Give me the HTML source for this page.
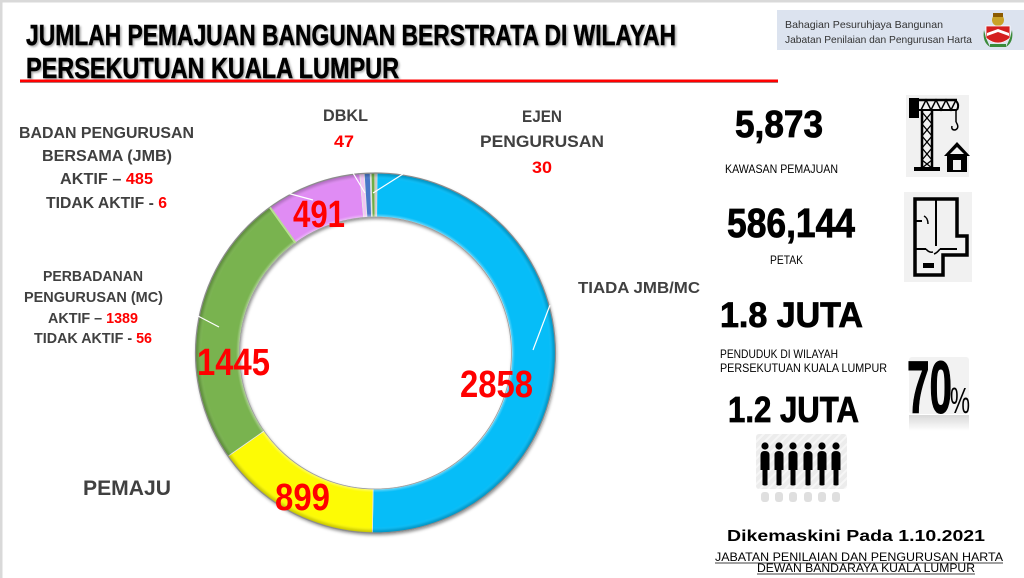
<!DOCTYPE html>
<html>
<head>
<meta charset="utf-8">
<style>
html,body{margin:0;padding:0;background:#fff;}
svg{display:block;}
text{font-family:"Liberation Sans",Arial,sans-serif;}
</style>
</head>
<body>
<svg width="1024" height="578" viewBox="0 0 1024 578" xmlns="http://www.w3.org/2000/svg">
<defs>
  <filter id="tsh" x="-5%" y="-30%" width="110%" height="160%">
    <feDropShadow dx="1.5" dy="1.5" stdDeviation="1" flood-color="#000" flood-opacity="0.35"/>
  </filter>
  <filter id="rsh" x="-10%" y="-10%" width="120%" height="120%">
    <feDropShadow dx="1" dy="2" stdDeviation="1.5" flood-color="#000" flood-opacity="0.45"/>
  </filter>
  <radialGradient id="bev" cx="375.5" cy="353" r="180" gradientUnits="userSpaceOnUse">
    <stop offset="0.755" stop-color="#fff" stop-opacity="0.45"/>
    <stop offset="0.775" stop-color="#fff" stop-opacity="0"/>
    <stop offset="0.965" stop-color="#fff" stop-opacity="0"/>
    <stop offset="0.985" stop-color="#000" stop-opacity="0.12"/>
    <stop offset="1" stop-color="#000" stop-opacity="0.25"/>
  </radialGradient>
  <linearGradient id="refl" x1="0" y1="0" x2="0" y2="1">
    <stop offset="0" stop-color="#000" stop-opacity="0.25"/>
    <stop offset="1" stop-color="#000" stop-opacity="0"/>
  </linearGradient>
  <pattern id="hatch" width="6" height="6" patternUnits="userSpaceOnUse" patternTransform="rotate(45)">
    <rect width="6" height="6" fill="#ececec"/>
    <rect width="2" height="6" fill="#f6f6f6"/>
  </pattern>
</defs>

<!-- slide borders -->
<rect x="0" y="0" width="1024" height="2.5" fill="#d9d9d9"/>
<rect x="0" y="0" width="2.5" height="578" fill="#d9d9d9"/>

<!-- Title -->
<g filter="url(#tsh)">
<text x="26" y="45" font-size="29" font-weight="bold" fill="#000" stroke="#000" stroke-width="0.5" textLength="650" lengthAdjust="spacingAndGlyphs">JUMLAH PEMAJUAN BANGUNAN BERSTRATA DI WILAYAH</text>
<text x="26" y="78" font-size="29" font-weight="bold" fill="#000" stroke="#000" stroke-width="0.5" textLength="373" lengthAdjust="spacingAndGlyphs">PERSEKUTUAN KUALA LUMPUR</text>
</g>
<rect x="20" y="79.5" width="758" height="2.5" fill="#ff0000"/>
<rect x="20" y="82" width="758" height="1" fill="#7a2020" opacity="0.6"/>

<!-- Logo box -->
<rect x="777" y="10" width="247" height="40" fill="#dce3ef"/>
<text x="785" y="28" font-size="10.5" fill="#333" textLength="158" lengthAdjust="spacingAndGlyphs">Bahagian Pesuruhjaya Bangunan</text>
<text x="785" y="43" font-size="10.5" fill="#333" textLength="187" lengthAdjust="spacingAndGlyphs">Jabatan Penilaian dan Pengurusan Harta</text>
<!-- crest -->
<g>
  <ellipse cx="998" cy="20" rx="6" ry="6" fill="#c9a227"/>
  <rect x="993" y="13" width="10" height="4" fill="#8b5a00"/>
  <path d="M986,26 L1010,26 L1010,38 Q998,48 986,38 Z" fill="#d42020" stroke="#fff" stroke-width="0.8"/>
  <path d="M987,33 L998,29 L1009,33 L1009,36 L998,32 L987,36 Z" fill="#fff"/>
  <path d="M984,30 Q982,42 990,47 L986,38 Z" fill="#3a8a3a"/>
  <path d="M1012,30 Q1014,42 1006,47 L1010,38 Z" fill="#3a8a3a"/>
  <rect x="990" y="44" width="16" height="3" fill="#3a8a3a"/>
</g>

<!-- Ring -->
<g filter="url(#rsh)">
  <circle cx="375.5" cy="353" r="158" fill="none" stroke="#bbb" stroke-width="44"/>
</g>
<g stroke="#e6e6e6" stroke-width="0.8">
  <path d="M377.07,173.01 A180,180 0 1,1 372.36,532.97 L373.13,488.98 A136,136 0 1,0 376.69,217.01 Z" fill="#06bdf8"/>
  <path d="M372.36,532.97 A180,180 0 0,1 228.05,456.24 L264.09,431.01 A136,136 0 0,0 373.13,488.98 Z" fill="#fdfb05"/>
  <path d="M228.05,456.24 A180,180 0 0,1 269.70,207.38 L295.56,242.97 A136,136 0 0,0 264.09,431.01 Z" fill="#79b34f"/>
  <path d="M269.70,207.38 A180,180 0 0,1 359.81,173.69 L363.65,217.52 A136,136 0 0,0 295.56,242.97 Z" fill="#e08cf4"/>
  <path d="M359.81,173.69 A180,180 0 0,1 364.20,173.36 L366.96,217.27 A136,136 0 0,0 363.65,217.52 Z" fill="#f2c6f4"/>
  <path d="M364.20,173.36 A180,180 0 0,1 370.16,173.08 L371.47,217.06 A136,136 0 0,0 366.96,217.27 Z" fill="#4a78c8"/>
  <path d="M371.10,173.05 A180,180 0 0,1 374.87,173.00 L375.03,217.00 A136,136 0 0,0 372.18,217.04 Z" fill="#6fae45"/>
</g>
<circle cx="375.5" cy="353" r="158" fill="none" stroke="url(#bev)" stroke-width="44"/>
<circle cx="375.5" cy="353" r="180" fill="none" stroke="#8c8c8c" stroke-width="1.2"/>
<circle cx="375.5" cy="353" r="136" fill="none" stroke="#9a9a9a" stroke-width="0.8"/>
<line x1="270" y1="207.5" x2="295.5" y2="243" stroke="#b6e08f" stroke-width="2"/>

<!-- leader lines -->
<g stroke="#fff" stroke-width="1.2">
  <line x1="403" y1="174" x2="373" y2="193"/>
  <line x1="550" y1="305" x2="533" y2="350"/>
  <line x1="198" y1="316" x2="219" y2="327"/>
  <line x1="287" y1="193" x2="313" y2="200"/>
  <line x1="353" y1="173" x2="365" y2="193"/>
</g>

<!-- ring values -->
<g font-weight="bold" fill="#ff0000">
  <text x="460" y="397" font-size="38" textLength="73" lengthAdjust="spacingAndGlyphs">2858</text>
  <text x="197" y="375" font-size="38" textLength="73" lengthAdjust="spacingAndGlyphs">1445</text>
  <text x="275" y="510" font-size="38" textLength="55" lengthAdjust="spacingAndGlyphs">899</text>
  <text x="293" y="227" font-size="38" textLength="52" lengthAdjust="spacingAndGlyphs">491</text>
</g>

<!-- category labels -->
<g font-weight="bold" fill="#404040" font-size="16">
  <text x="19" y="138" textLength="175" lengthAdjust="spacingAndGlyphs">BADAN PENGURUSAN</text>
  <text x="42" y="161" textLength="130" lengthAdjust="spacingAndGlyphs">BERSAMA (JMB)</text>
  <text x="60" y="184" textLength="93" lengthAdjust="spacingAndGlyphs">AKTIF – <tspan fill="#ff0000">485</tspan></text>
  <text x="46" y="208" textLength="121" lengthAdjust="spacingAndGlyphs">TIDAK AKTIF - <tspan fill="#ff0000">6</tspan></text>

  <text x="43" y="281" font-size="15" textLength="100" lengthAdjust="spacingAndGlyphs">PERBADANAN</text>
  <text x="24" y="302" font-size="15" textLength="139" lengthAdjust="spacingAndGlyphs">PENGURUSAN (MC)</text>
  <text x="48" y="323" font-size="15" textLength="90" lengthAdjust="spacingAndGlyphs">AKTIF – <tspan fill="#ff0000">1389</tspan></text>
  <text x="34" y="343" font-size="15" textLength="118" lengthAdjust="spacingAndGlyphs">TIDAK AKTIF - <tspan fill="#ff0000">56</tspan></text>

  <text x="83" y="495" font-size="21" textLength="88" lengthAdjust="spacingAndGlyphs">PEMAJU</text>

  <text x="323" y="121" font-size="17" textLength="45" lengthAdjust="spacingAndGlyphs">DBKL</text>
  <text x="334" y="147" font-size="17" fill="#ff0000" textLength="20" lengthAdjust="spacingAndGlyphs">47</text>

  <text x="522" y="122" font-size="17" textLength="40" lengthAdjust="spacingAndGlyphs">EJEN</text>
  <text x="480" y="147" font-size="17" textLength="124" lengthAdjust="spacingAndGlyphs">PENGURUSAN</text>
  <text x="532" y="173" font-size="17" fill="#ff0000" textLength="20" lengthAdjust="spacingAndGlyphs">30</text>

  <text x="578" y="293" font-size="16" textLength="122" lengthAdjust="spacingAndGlyphs">TIADA JMB/MC</text>
</g>

<!-- Right stats -->
<g font-weight="bold" fill="#000">
  <text x="735" y="137" font-size="38" stroke="#000" stroke-width="0.8" textLength="88" lengthAdjust="spacingAndGlyphs">5,873</text>
  <text x="725" y="173" font-size="12" textLength="113" lengthAdjust="spacingAndGlyphs" font-weight="normal">KAWASAN PEMAJUAN</text>
  <text x="727" y="237" font-size="41" stroke="#000" stroke-width="0.8" textLength="128" lengthAdjust="spacingAndGlyphs">586,144</text>
  <text x="770" y="264" font-size="12" textLength="33" lengthAdjust="spacingAndGlyphs" font-weight="normal">PETAK</text>
  <text x="720" y="327" font-size="35" stroke="#000" stroke-width="0.8" textLength="143" lengthAdjust="spacingAndGlyphs">1.8 JUTA</text>
  <text x="720" y="358" font-size="12" textLength="118" lengthAdjust="spacingAndGlyphs" font-weight="normal">PENDUDUK DI WILAYAH</text>
  <text x="720" y="372" font-size="12" textLength="167" lengthAdjust="spacingAndGlyphs" font-weight="normal">PERSEKUTUAN KUALA LUMPUR</text>
  <text x="728" y="422" font-size="36" stroke="#000" stroke-width="0.8" textLength="131" lengthAdjust="spacingAndGlyphs">1.2 JUTA</text>
  <text x="727" y="541" font-size="16" textLength="258" lengthAdjust="spacingAndGlyphs">Dikemaskini Pada 1.10.2021</text>
</g>
<g fill="#000" font-size="12">
  <text x="715" y="561" textLength="288" lengthAdjust="spacingAndGlyphs">JABATAN PENILAIAN DAN PENGURUSAN HARTA</text>
  <line x1="715" y1="563" x2="1003" y2="563" stroke="#000" stroke-width="0.8"/>
  <text x="757" y="572" textLength="218" lengthAdjust="spacingAndGlyphs">DEWAN BANDARAYA KUALA LUMPUR</text>
  <line x1="757" y1="574" x2="975" y2="574" stroke="#000" stroke-width="0.8"/>
</g>

<!-- Crane icon -->
<rect x="906" y="95" width="63" height="82" fill="#f1f1f1"/>
<g fill="#000" stroke="#000">
  <rect x="909" y="98" width="10" height="20" stroke="none"/>
  <line x1="919" y1="100" x2="957" y2="100" stroke-width="2.5"/>
  <line x1="919" y1="110" x2="957" y2="110" stroke-width="2"/>
  <polyline points="921,110 926,100 931,110 936,100 941,110 946,100 951,110 956,100" fill="none" stroke-width="1.5"/>
  <line x1="922" y1="110" x2="922" y2="168" stroke-width="2.5"/>
  <line x1="932" y1="110" x2="932" y2="168" stroke-width="2.5"/>
  <polyline points="922,112 932,124 922,136 932,148 922,160 932,168" fill="none" stroke-width="1.3"/>
  <polyline points="932,112 922,124 932,136 922,148 932,160 922,168" fill="none" stroke-width="1.3"/>
  <rect x="914" y="167" width="26" height="4" stroke="none"/>
  <path d="M955,100 Q960,104 957,110" fill="none" stroke-width="2"/>
  <line x1="956" y1="110" x2="956" y2="122" stroke-width="1.5"/>
  <path d="M956,122 Q960,128 955,130 Q951,130 952,126" fill="none" stroke-width="1.5"/>
  <polygon points="944,156 957,142 970,156 966,156 957,147 948,156" stroke="none"/>
  <rect x="947" y="154" width="20" height="18" stroke="none"/>
  <rect x="953" y="160" width="8" height="10" fill="#f1f1f1" stroke="none"/>
</g>

<!-- Floor plan icon -->
<rect x="904" y="192" width="68" height="90" fill="#f1f1f1"/>
<g fill="none" stroke="#000" stroke-width="3.5">
  <path d="M915,199 L957,199 L957,236 L967,236 L967,255 L943,255 L943,275 L915,275 Z"/>
  <line x1="936" y1="199" x2="936" y2="246" stroke-width="2"/>
  <line x1="915" y1="221" x2="922" y2="221" stroke-width="2"/>
  <path d="M924,216 Q928,218 928,224" stroke-width="1.5"/>
  <line x1="915" y1="249" x2="926" y2="249" stroke-width="2"/>
  <line x1="940" y1="249" x2="957" y2="249" stroke-width="2"/>
  <path d="M926,249 Q929,253 933,252" stroke-width="1.5"/>
  <path d="M940,249 Q937,253 934,254" stroke-width="1.5"/>
</g>
<rect x="923" y="263" width="11" height="5" fill="#000"/>

<!-- 70% icon -->
<rect x="909" y="357" width="60" height="57" rx="3" fill="#f2f2f2"/>
<text x="907" y="413" font-size="74" font-weight="bold" fill="#000" stroke="#000" stroke-width="1" textLength="45" lengthAdjust="spacingAndGlyphs">70</text>
<text x="950" y="413" font-size="36" fill="#000" textLength="20" lengthAdjust="spacingAndGlyphs">%</text>
<rect x="909" y="415" width="60" height="16" fill="url(#refl)" opacity="0.6"/>

<!-- People icon -->
<rect x="756" y="434" width="91" height="55" rx="3" fill="url(#hatch)"/>
<g fill="#000">
  <g id="p">
    <circle cx="765" cy="446" r="3.6"/>
    <path d="M760.5,455 Q760.5,451 765,451 Q769.5,451 769.5,455 L769.5,470 L767.5,470 L767.5,485 Q765,486 762.5,485 L762.5,470 L760.5,470 Z"/>
  </g>
  <use href="#p" x="14"/>
  <use href="#p" x="28"/>
  <use href="#p" x="43"/>
  <use href="#p" x="57"/>
  <use href="#p" x="71"/>
</g>
<g fill="#000" opacity="0.12">
  <rect x="761" y="492" width="8" height="10" rx="3"/>
  <rect x="775" y="492" width="8" height="10" rx="3"/>
  <rect x="789" y="492" width="8" height="10" rx="3"/>
  <rect x="804" y="492" width="8" height="10" rx="3"/>
  <rect x="818" y="492" width="8" height="10" rx="3"/>
  <rect x="832" y="492" width="8" height="10" rx="3"/>
</g>
</svg>
</body>
</html>
